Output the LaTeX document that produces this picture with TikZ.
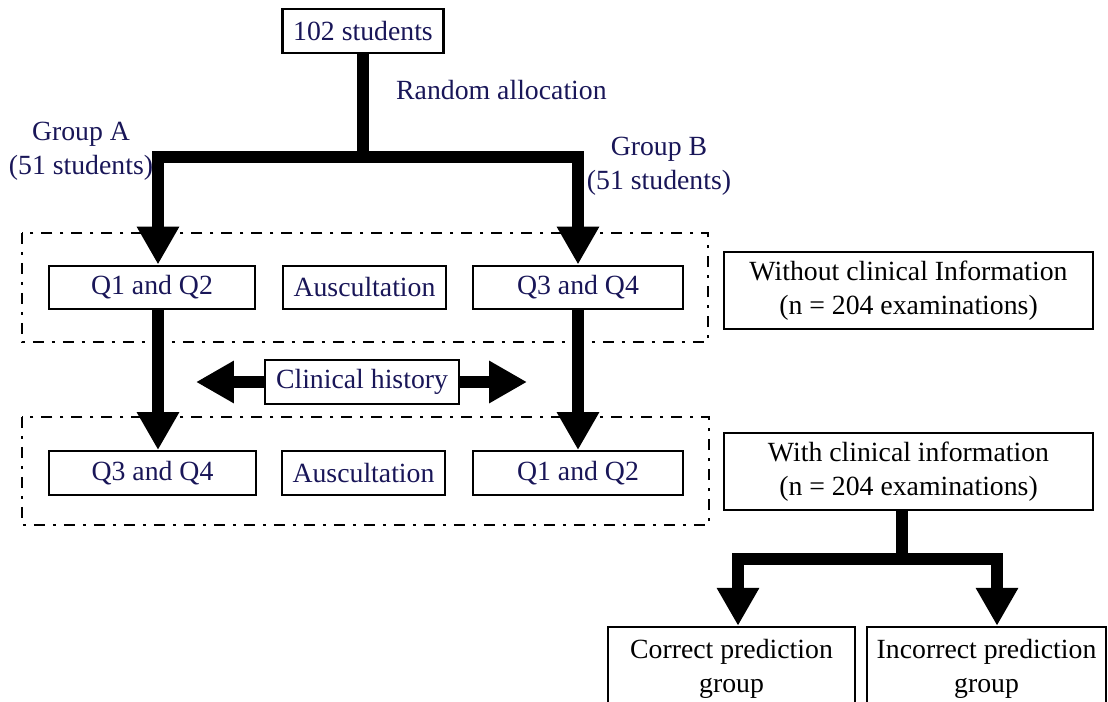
\documentclass[tikz,border=0pt]{standalone}
\usepackage{fontspec}
\setmainfont{Liberation Serif}
\usetikzlibrary{arrows.meta}
\definecolor{navy}{RGB}{25,22,88}

\begin{document}
\begin{tikzpicture}[x=0.02cm,y=-0.02cm]
\tikzstyle{box}=[draw,line width=1.4pt,inner sep=2pt,align=center,minimum height=0.87cm]
\tikzstyle{every node}=[font=\fontsize{15.8}{19.3}\selectfont]
\tikzstyle{fat}=[line width=6.8pt]
\tikzstyle{fatarrow}=[fat,-{Triangle[length=0.76cm,width=0.8cm]}]
\tikzstyle{phase}=[line width=1.6pt,dash pattern=on 0.22cm off 0.16cm on 0.06cm off 0.16cm]
\useasboundingbox (0,0) rectangle (1108,702);
\clip (0,0) rectangle (1108,702);
% arrow columns
\coordinate (ca) at (158,0);
\coordinate (cb) at (578,0);
\coordinate (cl) at (738,0);
\coordinate (cr) at (997,0);
% phases
\draw[phase] (22,233) rectangle (708,342);
\draw[phase] (22,417) rectangle (709,525);
% boxes
\node[box,text=navy,minimum width=3.22cm] (top) at (363,31) {102 students};
\node[box,text=navy,minimum width=4.12cm] (q12a) at (152,287.5) {Q1 and Q2};
\node[box,text=navy,minimum width=3.26cm] (ausa) at (364.5,287.5) {Auscultation};
\node[box,text=navy,minimum width=4.2cm] (q34a) at (578,287.5) {Q3 and Q4};
\node[box,text=navy,minimum width=4.14cm] (q34b) at (152.5,473) {Q3 and Q4};
\node[box,text=navy,minimum width=3.26cm] (ausb) at (363.5,473) {Auscultation};
\node[box,text=navy,minimum width=4.2cm] (q12b) at (578,473) {Q1 and Q2};
\node[box,text=navy,minimum width=3.88cm] (hist) at (362,382) {Clinical history};
\node[box,minimum width=7.38cm,minimum height=1.54cm] (without) at (908.5,290.5) {Without clinical Information\\(n = 204 examinations)};
\node[box,minimum width=7.38cm,minimum height=1.54cm] (with) at (908.5,471.5) {With clinical information\\(n = 204 examinations)};
\node[box,minimum width=4.94cm,minimum height=1.68cm] (correct) at (731.5,669) {Correct prediction\\group};
\node[box,minimum width=4.78cm,minimum height=1.68cm] (incorrect) at (986.5,669) {Incorrect prediction\\group};
% labels
\node[text=navy,anchor=west] (rand) at (390,90) {Random allocation};
\node[text=navy,align=center] (grpa) at (81,151.5) {Group A\\(51 students)};
\node[text=navy,align=center] (grpb) at (659,166) {Group B\\(51 students)};
% connectors
\coordinate (split) at (363,157);
\draw[fatarrow] (top.south) -- (split) -| (q12a.north -| ca);
\draw[fatarrow] (top.south) -- (split) -| (q34a.north -| cb);
\draw[fatarrow] (q12a.south -| ca) -- (q34b.north -| ca);
\draw[fatarrow] (q34a.south -| cb) -- (q12b.north -| cb);
\coordinate (hleft) at (196,382);
\coordinate (hright) at (527,382);
\draw[fatarrow] (hist.west) -- (hleft);
\draw[fatarrow] (hist.east) -- (hright);
\coordinate (split2) at (902,559);
\draw[fatarrow] (with.south -| split2) -- (split2) -| (correct.north -| cl);
\draw[fatarrow] (with.south -| split2) -- (split2) -| (incorrect.north -| cr);
\end{tikzpicture}
\end{document}
